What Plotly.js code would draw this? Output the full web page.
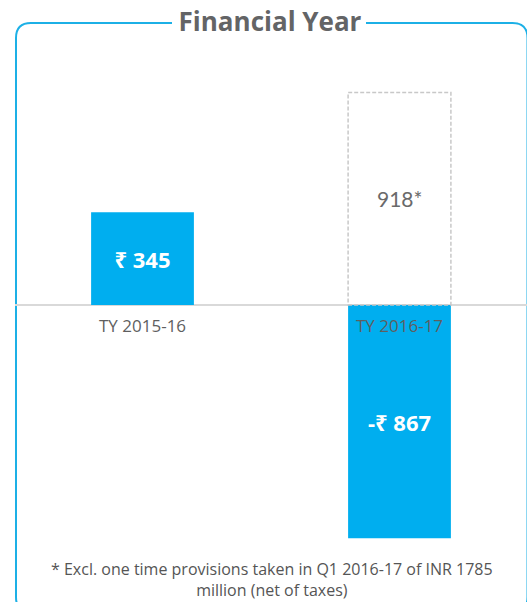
<!DOCTYPE html>
<html>
<head>
<meta charset="utf-8">
<script src="https://cdn.plot.ly/plotly-3.0.1.min.js"></script>
<style>html,body{margin:0;padding:0;background:#fff}#chart{width:527px;height:602px}</style>
</head>
<body>
<div id="chart"></div>
<script>
// ---- data ----
const categories = ['TY 2015-16', 'TY 2016-17'];
const profitValues = [345, -867];
const provisionalCategory = 'TY 2016-17';
const provisionalHeight = 790;      // drawn height of the dashed box
const provisionalLabel = '918*';
const titleText = 'Financial Year';
const footnoteLines = ['* Excl. one time provisions taken in Q1 2016-17 of INR 1785', 'million (net of taxes)'];

// ---- layout helpers ----
const W = 527, H = 602;
const px = x => x / W;
const py = y => 1 - y / H;
const barWidth = 0.4;
const lato = 'Lato, "Noto Sans", "DejaVu Sans", sans-serif';
const open = '"Open Sans", "Noto Sans", "DejaVu Sans", sans-serif';

const barText = profitValues.map(v => (v < 0 ? '-' : '') + '₹ ' + Math.abs(v));

const trace = {
  type: 'bar',
  x: categories,
  y: profitValues,
  width: barWidth,
  marker: {color: '#00aeef'},
  text: barText,
  textposition: 'inside',
  insidetextanchor: 'middle',
  textangle: 0,
  textfont: {family: open, size: 22, color: '#ffffff', weight: 'bold'},
  hoverinfo: 'none',
  cliponaxis: false
};

const provIdx = categories.indexOf(provisionalCategory);

// border path with gap for title
function P(x, y) { return px(x).toFixed(5) + ',' + py(y).toFixed(5); }
const r = 15, L = 16, T = 23, R = 527.5, B = 612;
const border = 'M' + P(172, T) + ' L' + P(L + r, T) +
  ' Q' + P(L, T) + ' ' + P(L, T + r) + ' L' + P(L, B - r) +
  ' Q' + P(L, B) + ' ' + P(L + r, B) + ' L' + P(R - r, B) +
  ' Q' + P(R, B) + ' ' + P(R, B - r) + ' L' + P(R, T + r) +
  ' Q' + P(R, T) + ' ' + P(R - r, T) + ' L' + P(366, T);

const layout = {
  width: W, height: H,
  margin: {l: 0, r: 0, t: 0, b: 0},
  paper_bgcolor: '#ffffff',
  plot_bgcolor: '#ffffff',
  showlegend: false,
  title: {
    text: '<b>' + titleText + '</b>',
    x: px(270), xanchor: 'center',
    y: py(22), yanchor: 'middle', yref: 'container', xref: 'container',
    font: {family: open, size: 26, color: '#636466'}
  },
  xaxis: {
    type: 'category', range: [-0.5545, 1.4961], visible: false, fixedrange: true
  },
  yaxis: {
    range: [-1104.2, 1133.9], visible: false, zeroline: false, showgrid: false, fixedrange: true
  },
  shapes: [
    {type: 'path', xref: 'paper', yref: 'paper', path: border,
     line: {color: '#1cb0e6', width: 2}, layer: 'below'},
    {type: 'line', xref: 'paper', yref: 'y', x0: px(15), x1: 1, y0: 0, y1: 0,
     line: {color: '#d9d9d9', width: 2}, layer: 'below'},
    {type: 'rect', xref: 'x', yref: 'y',
     x0: provIdx - barWidth / 2, x1: provIdx + barWidth / 2, y0: 0, y1: provisionalHeight,
     line: {color: '#c8c8c8', width: 1.5, dash: '4px,2px'}, fillcolor: 'rgba(0,0,0,0)'}
  ],
  annotations: [
    ...categories.map(c => ({
      x: c, y: 0, xref: 'x', yref: 'y', yshift: -21,
      text: c, showarrow: false, xanchor: 'center', yanchor: 'middle',
      font: {family: open, size: 17, color: '#5f5f5f'}
    })),
    {x: provisionalCategory, y: provisionalHeight / 2, xref: 'x', yref: 'y',
     text: provisionalLabel, showarrow: false, xanchor: 'center', yanchor: 'middle',
     font: {family: lato, size: 21, color: '#6a6a6a'}},
    {x: px(272), y: py(579), xref: 'paper', yref: 'paper',
     text: footnoteLines.join('<br>'), showarrow: false, xanchor: 'center', yanchor: 'middle',
     align: 'center',
     font: {family: open, size: 16, color: '#555555', lineheight: 1.1}}
  ]
};

Plotly.newPlot('chart', [trace], layout, {staticPlot: true, displayModeBar: false});
</script>
</body>
</html>
